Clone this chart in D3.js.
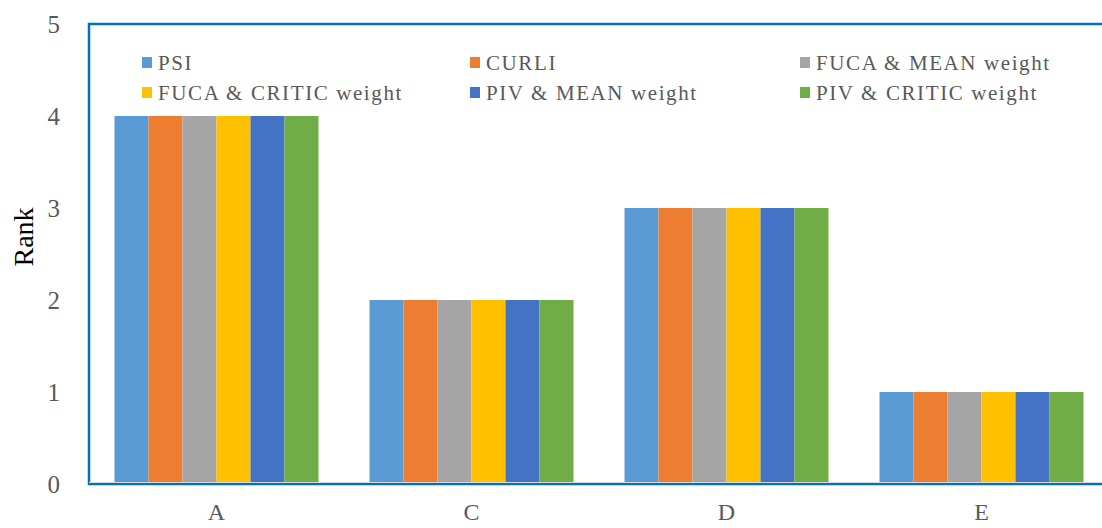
<!DOCTYPE html>
<html>
<head>
<meta charset="utf-8">
<script src="https://cdn.jsdelivr.net/npm/d3@7"></script>
<style>
  body { margin: 0; background: #fff; }
  text { font-family: "Liberation Serif", "Times New Roman", serif; }
</style>
</head>
<body>
<div id="chart"></div>
<script>
// chart data
var categories = ["A", "C", "D", "E"];
var seriesNames = ["PSI", "CURLI", "FUCA & MEAN weight", "FUCA & CRITIC weight", "PIV & MEAN weight", "PIV & CRITIC weight"];
var seriesColors = ["#5B9BD5", "#ED7D31", "#A5A5A5", "#FFC000", "#4472C4", "#70AD47"];
var psi = [4, 2, 3, 1];
var curli = [4, 2, 3, 1];
var fucaMean = [4, 2, 3, 1];
var fucaCritic = [4, 2, 3, 1];
var pivMean = [4, 2, 3, 1];
var pivCritic = [4, 2, 3, 1];
var yTicks = [0, 1, 2, 3, 4, 5];

var allSeries = [psi, curli, fucaMean, fucaCritic, pivMean, pivCritic];

var svgWidth = 1102;
var svgHeight = 528;
var margin = {top: 24, right: -7, bottom: 44, left: 89};
var width = svgWidth - margin.left - margin.right;
var height = svgHeight - margin.top - margin.bottom;

var svg = d3.select("#chart").append("svg")
    .attr("width", svgWidth)
    .attr("height", svgHeight);

var chartGroup = svg.append("g")
    .attr("transform", `translate(${margin.left}, ${margin.top})`);

var x0 = d3.scaleBand()
    .domain(categories)
    .range([0, width])
    .paddingInner(0.2)
    .paddingOuter(0.1);

var x1 = d3.scaleBand()
    .domain(seriesNames)
    .range([0, x0.bandwidth()]);

var y = d3.scaleLinear()
    .domain([0, 5])
    .range([height, 0]);

// bars
var rows = categories.map(function (c, i) {
    return {cat: c, vals: seriesNames.map(function (s, j) { return {name: s, value: allSeries[j][i], color: seriesColors[j]}; })};
});

chartGroup.selectAll("g.cat")
    .data(rows)
    .enter()
    .append("g")
    .attr("class", "cat")
    .attr("transform", d => `translate(${x0(d.cat)},0)`)
    .selectAll("rect")
    .data(d => d.vals)
    .enter()
    .append("rect")
    .attr("x", d => x1(d.name))
    .attr("y", d => y(d.value))
    .attr("width", x1.bandwidth())
    .attr("height", d => height - y(d.value))
    .attr("fill", d => d.color);

// frame
chartGroup.append("rect")
    .attr("x", 0)
    .attr("y", 0)
    .attr("width", width + 20)
    .attr("height", height)
    .attr("fill", "none")
    .attr("stroke", "#0070C0")
    .attr("stroke-width", 2.5);

chartGroup.append("line")
    .attr("x1", 0).attr("x2", width + 20)
    .attr("y1", height - 1.5).attr("y2", height - 1.5)
    .attr("stroke", "#D9D9D9")
    .attr("stroke-width", 1);

// y axis
var leftAxis = d3.axisLeft(y).tickValues(yTicks).tickFormat(d3.format("d")).tickSize(0).tickPadding(29);
var yAx = chartGroup.append("g").call(leftAxis);
yAx.select(".domain").remove();
yAx.selectAll("text")
    .attr("font-size", 25)
    .attr("fill", "#595959");

// x axis
var bottomAxis = d3.axisBottom(x0).tickSize(0).tickPadding(19);
var xAx = chartGroup.append("g")
    .attr("transform", `translate(0, ${height})`)
    .call(bottomAxis);
xAx.select(".domain").remove();
xAx.selectAll("text")
    .attr("font-size", 24)
    .attr("fill", "#595959");

// y title
svg.append("text")
    .attr("transform", "translate(33, 237) rotate(-90)")
    .attr("text-anchor", "middle")
    .attr("font-size", 28)
    .attr("fill", "#000")
    .text("Rank");

// legend
var legendX = [142, 470, 800];
var legendY = [63, 93];
var legend = svg.append("g");
seriesNames.forEach(function (s, i) {
    var lx = legendX[i % 3];
    var ly = legendY[Math.floor(i / 3)];
    legend.append("rect")
        .attr("x", lx)
        .attr("y", ly - 6)
        .attr("width", 10)
        .attr("height", 11)
        .attr("fill", seriesColors[i]);
    legend.append("text")
        .attr("x", lx + 16)
        .attr("y", ly + 7)
        .attr("font-size", 21)
        .attr("letter-spacing", 1.6)
        .attr("fill", "#595959")
        .text(s);
});
</script>
</body>
</html>
